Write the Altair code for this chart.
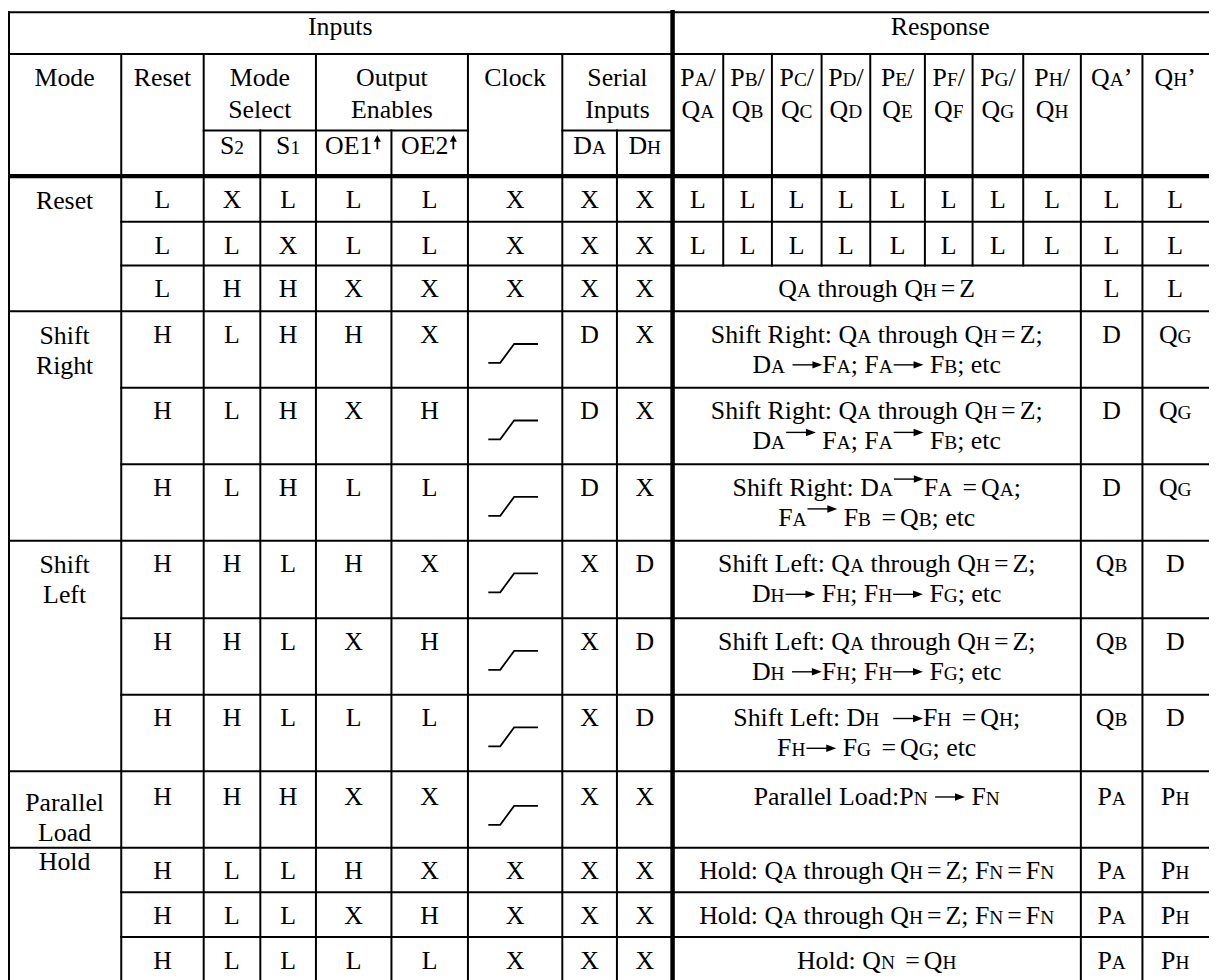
import altair as alt
import pandas as pd

# ---------------- table content ----------------
GROUP_HEADERS = ["Inputs", "Response"]
COL_HEADERS = ["Mode", "Reset", "Mode\nSelect", "Output\nEnables", "Clock", "Serial\nInputs",
               "P{A}/\nQ{A}", "P{B}/\nQ{B}", "P{C}/\nQ{C}", "P{D}/\nQ{D}",
               "P{E}/\nQ{E}", "P{F}/\nQ{F}", "P{G}/\nQ{G}", "P{H}/\nQ{H}",
               "Q{A}’", "Q{H}’"]
SUB_HEADERS = ["S{2}", "S{1}", "OE1|", "OE2|", "D{A}", "D{H}"]

MODES = ["Reset", "Shift\nRight", "Shift\nLeft", "Parallel\nLoad", "Hold"]
RESET_IN = ["L", "L", "L", "H", "H", "H", "H", "H", "H", "H", "H", "H", "H"]
S2 = ["X", "L", "H", "L", "L", "L", "H", "H", "H", "H", "L", "L", "L"]
S1 = ["L", "X", "H", "H", "H", "H", "L", "L", "L", "H", "L", "L", "L"]
OE1 = ["L", "L", "X", "H", "X", "L", "H", "X", "L", "X", "H", "X", "L"]
OE2 = ["L", "L", "X", "X", "H", "L", "X", "H", "L", "X", "X", "H", "L"]
CLOCK = ["X", "X", "X", "rise", "rise", "rise", "rise", "rise", "rise", "rise", "X", "X", "X"]
DA = ["X", "X", "X", "D", "D", "D", "X", "X", "X", "X", "X", "X", "X"]
DH = ["X", "X", "X", "X", "X", "X", "D", "D", "D", "X", "X", "X", "X"]
RESPONSE = [
    "L", "L",
    "Q{A} through Q{H}=Z",
    "Shift Right: Q{A} through Q{H}=Z;\nD{A} >F{A}; F{A}> F{B}; etc",
    "Shift Right: Q{A} through Q{H}=Z;\nD{A}^ F{A}; F{A}^ F{B}; etc",
    "Shift Right: D{A}^F{A} =Q{A};\nF{A}^ F{B} =Q{B}; etc",
    "Shift Left: Q{A} through Q{H}=Z;\nD{H}> F{H}; F{H}> F{G}; etc",
    "Shift Left: Q{A} through Q{H}=Z;\nD{H} >F{H}; F{H}> F{G}; etc",
    "Shift Left: D{H}  >F{H} =Q{H};\nF{H}> F{G} =Q{G}; etc",
    "Parallel Load:P{N} > F{N}",
    "Hold: Q{A} through Q{H}=Z; F{N}=F{N}",
    "Hold: Q{A} through Q{H}=Z; F{N}=F{N}",
    "Hold: Q{N} =Q{H}",
]
QA_OUT = ["L", "L", "L", "D", "D", "D", "Q{B}", "Q{B}", "Q{B}", "P{A}", "P{A}", "P{A}", "P{A}"]
QH_OUT = ["L", "L", "L", "Q{G}", "Q{G}", "Q{G}", "D", "D", "D", "P{H}", "P{H}", "P{H}", "P{H}"]

# ---------------- layout (pixel grid) ----------------
COL_X = [8, 122, 205, 262, 318, 394, 471, 566, 621, 677, 728, 777, 827, 876, 931, 979, 1030, 1088, 1150, 1216]
ROW_Y = [9, 51, 128, 174, 220, 264, 310, 387, 464, 541, 619, 696, 773, 850, 895, 940, 985]
BODY_BASE = [206, 252, 296, 342, 419, 496, 573, 651, 728, 807, 882, 927, 972]
MODE_BASE = [207, 343, 574, 813, 873]
HEAD_SPANS = [(0, 1), (1, 2), (2, 4), (4, 6), (6, 7), (7, 9)] + [(c, c + 1) for c in range(9, 19)]
SUB_COLS = [2, 3, 4, 5, 7, 8]

NS, SS = 26, 19.5
ARW, UPW = 31, 10
EQP = 4
W = {' ': 250, '/': 278, ':': 278, ';': 278, '=': 564, '’': 333,
     '0': 500, '1': 500, '2': 500,
     'A': 722, 'B': 667, 'C': 667, 'D': 722, 'E': 611, 'F': 556, 'G': 722, 'H': 722,
     'I': 333, 'L': 611, 'M': 889, 'N': 722, 'O': 722, 'P': 556, 'Q': 722, 'R': 667,
     'S': 556, 'X': 722, 'Z': 611,
     'a': 444, 'b': 500, 'c': 444, 'd': 500, 'e': 444, 'f': 333, 'g': 500, 'h': 500,
     'i': 278, 'k': 500, 'l': 278, 'm': 778, 'n': 500, 'o': 500, 'p': 500, 'r': 333,
     's': 389, 't': 278, 'u': 500}


def parse(s):
    runs, buf, i = [], '', 0

    def flush():
        nonlocal buf
        if buf:
            runs.append(('n', buf))
            buf = ''
    while i < len(s):
        c = s[i]
        if c == '{':
            j = s.index('}', i)
            flush()
            runs.append(('s', s[i + 1:j]))
            i = j + 1
            continue
        if c in '>^|':
            flush()
            runs.append((c, ''))
            i += 1
            continue
        if c == '=':
            flush()
            runs.append(('e', '='))
            i += 1
            continue
        buf += c
        i += 1
    flush()
    return runs


def run_w(kind, t):
    if kind == 'n':
        return sum(W.get(ch, 500) for ch in t) * NS / 1000
    if kind == 's':
        return sum(W.get(ch, 500) for ch in t) * SS / 1000
    if kind == 'e':
        return W['='] * NS / 1000 + 2 * EQP
    if kind in '>^':
        return ARW
    return UPW


texts, segs, rheads, uheads = [], [], [], []


def place(s, x0, x1, base, lh=30):
    cx = (x0 + x1) / 2
    for k, line in enumerate(s.split('\n')):
        y = base + k * lh
        runs = parse(line)
        total = sum(run_w(*r) for r in runs)
        x = cx - total / 2
        for kind, t in runs:
            w = run_w(kind, t)
            if kind in 'ns':
                fs = NS if kind == 'n' else SS
                lead = len(t) - len(t.lstrip(' '))
                if t.strip():
                    texts.append(dict(x=x + lead * 250 * fs / 1000, y=y, t=t.strip(' '), fs=fs))
            elif kind == 'e':
                texts.append(dict(x=x + EQP, y=y, t='=', fs=NS))
            elif kind in '>^':
                ay = y - (8 if kind == '>' else 17)
                segs.append(dict(x=x + 1, x2=x + w - 8, y=ay, y2=ay, w=1.4))
                rheads.append(dict(x=x + w - 5, y=ay))
            else:
                ux = x + 5
                segs.append(dict(x=ux, x2=ux, y=y - 5, y2=y - 14, w=1.8))
                uheads.append(dict(x=ux, y=y - 16))
            x += w


# headers
place(GROUP_HEADERS[0], COL_X[0], COL_X[9], 32)
place(GROUP_HEADERS[1], COL_X[9], COL_X[19], 32)
for txt, (a, b) in zip(COL_HEADERS, HEAD_SPANS):
    place(txt, COL_X[a], COL_X[b], 83, lh=32)
for txt, c in zip(SUB_HEADERS, SUB_COLS):
    place(txt, COL_X[c], COL_X[c + 1], 152)

# mode labels
for txt, b in zip(MODES, MODE_BASE):
    place(txt, COL_X[0], COL_X[1], b)

# body
clock_pts = []
for r in range(13):
    base = BODY_BASE[r]
    for c, arr in zip([1, 2, 3, 4, 5, 7, 8], [RESET_IN, S2, S1, OE1, OE2, DA, DH]):
        place(arr[r], COL_X[c], COL_X[c + 1], base)
    if CLOCK[r] == 'rise':
        cx = (COL_X[6] + COL_X[7]) / 2
        for o, (dx, dy) in enumerate([(-27, 20), (-15, 20), (-1, 1), (23, 1)]):
            clock_pts.append(dict(g=r, o=o, x=cx + dx, y=base + dy))
    else:
        place(CLOCK[r], COL_X[6], COL_X[7], base)
    if RESPONSE[r] == 'L':
        for c in range(9, 17):
            place('L', COL_X[c], COL_X[c + 1], base)
    else:
        place(RESPONSE[r], COL_X[9], COL_X[17], base)
    place(QA_OUT[r], COL_X[17], COL_X[18], base)
    place(QH_OUT[r], COL_X[18], COL_X[19], base)

# grid lines
THIN, THICK = 2, 4.5
lines = []


def hline(y, x0, x1, w=THIN):
    lines.append(dict(x=x0, x2=x1, y=y, y2=y, w=w))


def vline(x, y0, y1, w=THIN):
    lines.append(dict(x=x, x2=x, y=y0, y2=y1, w=w))


R = 1217
B = 985
hline(ROW_Y[0], 9, R)
hline(ROW_Y[1], 9, R)
hline(ROW_Y[2], COL_X[2], COL_X[6])
hline(ROW_Y[2], COL_X[7], COL_X[9])
hline(ROW_Y[3], 9, R, THICK)
for k in range(4, 16):
    y = ROW_Y[k]
    full = y in (310, 541, 773, 850)
    hline(y, 9 if full else COL_X[1], R)
vline(9, ROW_Y[0], B)
for c in [1, 2, 4, 6, 7, 17, 18]:
    vline(COL_X[c], ROW_Y[1], B)
for c in [3, 5, 8]:
    vline(COL_X[c], ROW_Y[2], B)
vline(COL_X[9], ROW_Y[0], B, THICK)
for c in range(10, 17):
    vline(COL_X[c], ROW_Y[1], ROW_Y[5])

XS = alt.Scale(domain=[8, 1217], nice=False, zero=False)
YS = alt.Scale(domain=[8, 980], nice=False, zero=False, reverse=True)

grid = alt.Chart(pd.DataFrame(lines)).mark_rule(color='black', strokeCap='square').encode(
    x=alt.X('x:Q', scale=XS, axis=None), x2='x2:Q',
    y=alt.Y('y:Q', scale=YS, axis=None), y2='y2:Q',
    size=alt.Size('w:Q', scale=None, legend=None))

shafts = alt.Chart(pd.DataFrame(segs)).mark_rule(color='black').encode(
    x=alt.X('x:Q', scale=XS, axis=None), x2='x2:Q',
    y=alt.Y('y:Q', scale=YS, axis=None), y2='y2:Q',
    size=alt.Size('w:Q', scale=None, legend=None))

rhead = alt.Chart(pd.DataFrame(rheads)).mark_point(
    shape="M-1,-0.75L1,0L-1,0.75Z", filled=True, size=100, color='black', opacity=1, strokeWidth=0
).encode(x=alt.X('x:Q', scale=XS, axis=None), y=alt.Y('y:Q', scale=YS, axis=None))

uhead = alt.Chart(pd.DataFrame(uheads)).mark_point(
    shape="M-1,1L0,-1L1,1Z", filled=True, size=49, color='black', opacity=1, strokeWidth=0
).encode(x=alt.X('x:Q', scale=XS, axis=None), y=alt.Y('y:Q', scale=YS, axis=None))

clock = alt.Chart(pd.DataFrame(clock_pts)).mark_line(color='black', strokeWidth=1.8).encode(
    x=alt.X('x:Q', scale=XS, axis=None), y=alt.Y('y:Q', scale=YS, axis=None),
    detail='g:N', order='o:Q')

txt = alt.Chart(pd.DataFrame(texts)).mark_text(
    align='left', baseline='alphabetic', font='Liberation Serif', color='black'
).encode(
    x=alt.X('x:Q', scale=XS, axis=None), y=alt.Y('y:Q', scale=YS, axis=None),
    text='t:N', size=alt.Size('fs:Q', scale=None, legend=None))

chart = alt.layer(grid, clock, shafts, rhead, uhead, txt).properties(
    width=1209, height=972, padding=0, autosize=alt.AutoSizeParams(type='none'),
    background='white'
).configure_view(strokeWidth=0)

chart.save("out.html", embed_options={"renderer": "svg", "actions": False})
